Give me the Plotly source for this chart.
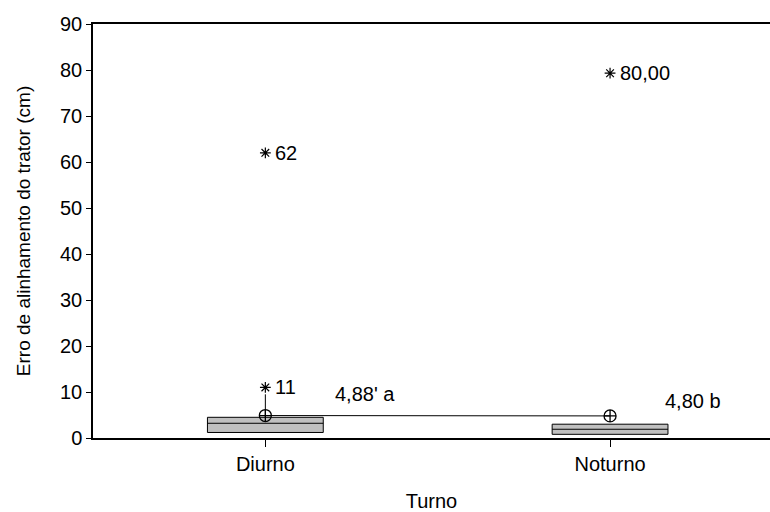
import plotly.graph_objects as go

categories = ["Diurno", "Noturno"]
xpos = [0, 1]
q1 = [1.2, 0.8]
median = [3.2, 1.9]
q3 = [4.5, 3.0]
lowerfence = [1.2, 0.8]
upperfence = [9.5, 3.0]
means = [4.88, 4.80]
mean_labels = ["4,88' a", "4,80 b"]
mean_label_y = [9.6, 8.0]
mean_label_dx = [0.197, 0.154]
outlier_x = [0, 0, 1]
outlier_y = [62, 11, 79.3]
outlier_labels = ["62", "11", "80,00"]
yticks = [0, 10, 20, 30, 40, 50, 60, 70, 80, 90]

FONT = "Liberation Sans, Arial, sans-serif"
FS = 20
FT = 19
fig = go.Figure()

fig.add_trace(go.Box(
    x=xpos, q1=q1, median=median, q3=q3,
    lowerfence=lowerfence, upperfence=upperfence,
    width=0.336, whiskerwidth=0,
    fillcolor="#c0c0c0", line=dict(color="black", width=1),
    boxpoints=False, showlegend=False, hoverinfo="skip"))

fig.add_trace(go.Scatter(
    x=xpos, y=means, mode="lines+markers",
    line=dict(color="black", width=1),
    marker=dict(symbol="circle-cross-open", size=12, color="black",
                line=dict(width=1.3)),
    showlegend=False))

fig.add_trace(go.Scatter(
    x=outlier_x, y=outlier_y, mode="markers",
    marker=dict(symbol="asterisk-open", size=9, color="black",
                line=dict(width=1.2, color="black")),
    showlegend=False))

for x, y, t in zip(outlier_x, outlier_y, outlier_labels):
    fig.add_annotation(x=x, y=y, text=t, showarrow=False, xanchor="left",
                       xshift=8, font=dict(family=FONT, size=FS, color="black"))

for x, dx, y, t in zip(xpos, mean_label_dx, mean_label_y, mean_labels):
    fig.add_annotation(x=x + dx, y=y, text=t, showarrow=False, xanchor="left",
                       font=dict(family=FONT, size=FS, color="black"))

fig.update_layout(
    width=770, height=512,
    margin=dict(l=93, r=0, t=24, b=74),
    paper_bgcolor="white", plot_bgcolor="white",
    font=dict(family=FONT, size=FS, color="black"),
    xaxis=dict(range=[-0.5, 1.464], tickvals=xpos, ticktext=categories,
               showline=True, linecolor="black", linewidth=1.5, mirror=True,
               ticks="outside", ticklen=7, tickcolor="black",
               tickfont=dict(family=FONT, size=FS, color="black"),
               showgrid=False, zeroline=False, automargin=False,
               title=dict(text="Turno", standoff=28,
                          font=dict(family=FONT, size=FS, color="black"))),
    yaxis=dict(range=[0, 90], tickvals=yticks,
               showline=True, linecolor="black", linewidth=1.5,
               ticks="outside", ticklen=5, tickcolor="black",
               tickfont=dict(family=FONT, size=FS, color="black"),
               showgrid=False, zeroline=False, automargin=False,
               title=dict(text="Erro de alinhamento do trator (cm)", standoff=24,
                          font=dict(family=FONT, size=FT, color="black"))),
)

fig.write_html("out.html")
